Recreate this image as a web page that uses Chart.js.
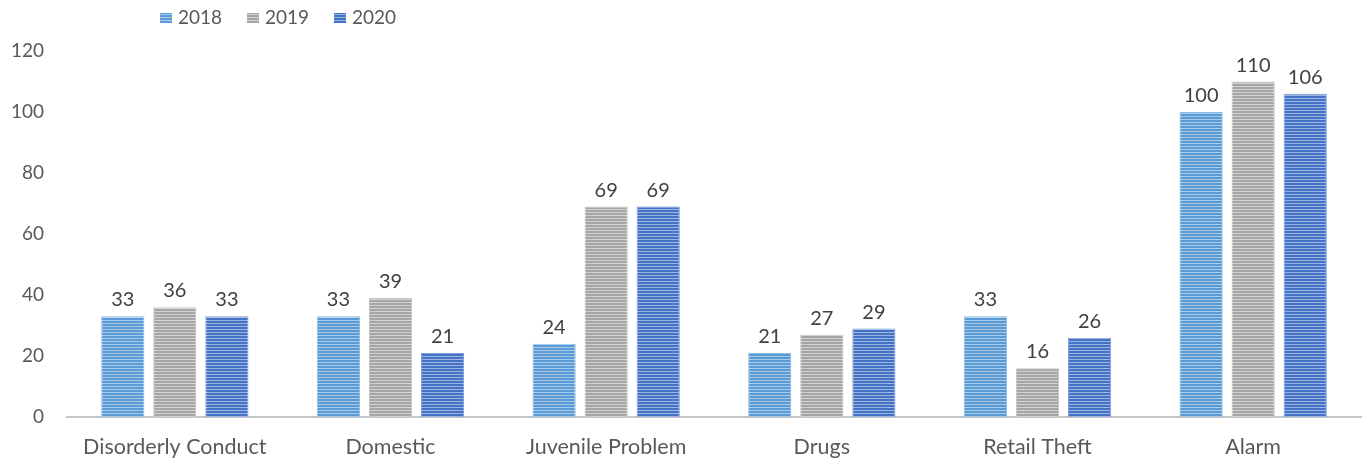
<!DOCTYPE html>
<html>
<head>
<meta charset="utf-8">
<script src="https://cdn.jsdelivr.net/npm/chart.js@4"></script>
<style>
  html, body { margin: 0; padding: 0; background: #fff; }
  #wrap { width: 1362px; height: 464px; }
</style>
</head>
<body>
<div id="wrap"><canvas id="grafico"></canvas></div>
<script>
const categorias = ['Disorderly Conduct', 'Domestic', 'Juvenile Problem', 'Drugs', 'Retail Theft', 'Alarm'];

const anos = ['2018', '2019', '2020'];

const dados2018 = [33, 33, 24, 21, 33, 100];
const dados2019 = [36, 39, 69, 27, 16, 110];
const dados2020 = [33, 21, 69, 29, 26, 106];

const marcasY = [0, 20, 40, 60, 80, 100, 120];

const fonte = 'Lato, "Noto Sans", sans-serif';
const corTexto = '#595959';

// listras horizontais finas, como o preenchimento das barras
function listras(base, claro) {
	const c = document.createElement('canvas');
	c.width = 4;
	c.height = 3;
	const g = c.getContext('2d');
	g.fillStyle = base;
	g.fillRect(0, 0, 4, 3);
	g.fillStyle = claro;
	g.fillRect(0, 2, 4, 1);
	return g.createPattern(c, 'repeat');
}

const cores = [
	{ base: '#5b9bd5', claro: '#a9cbea', borda: '#8fbbe3' },
	{ base: '#a5a5a5', claro: '#d2d2d2', borda: '#c4c4c4' },
	{ base: '#4472c4', claro: '#9db5e2', borda: '#7e9ad6' }
];

// valores escritos acima de cada barra
const rotulosValores = {
	id: 'rotulosValores',
	afterDatasetsDraw(chart) {
		const ctx = chart.ctx;
		ctx.save();
		ctx.font = '20px ' + fonte;
		ctx.fillStyle = '#404040';
		ctx.textAlign = 'center';
		ctx.textBaseline = 'alphabetic';
		chart.data.datasets.forEach((ds, i) => {
			chart.getDatasetMeta(i).data.forEach((bar, j) => {
				ctx.fillText(ds.data[j], bar.x, bar.y - 10);
			});
		});
		ctx.restore();
	}
};

// legenda desenhada à mão, no canto superior esquerdo
const legendaTopo = {
	id: 'legendaTopo',
	afterDraw(chart) {
		const ctx = chart.ctx;
		const posicoes = [160, 247, 334];
		ctx.save();
		ctx.font = '19px ' + fonte;
		ctx.textBaseline = 'middle';
		ctx.textAlign = 'left';
		chart.data.datasets.forEach((ds, i) => {
			const x = posicoes[i];
			ctx.fillStyle = ds.backgroundColor;
			ctx.fillRect(x, 13, 12, 10);
			ctx.fillStyle = corTexto;
			ctx.fillText(ds.label, x + 18, 18);
		});
		ctx.restore();
	}
};

let ctx = document.getElementById('grafico').getContext('2d');

const series = [dados2018, dados2019, dados2020];

let grafico = new Chart(ctx, {
	type: 'bar',
	data: {
		labels: categorias,
		datasets: anos.map((ano, i) => ({
			label: ano,
			data: series[i],
			backgroundColor: listras(cores[i].base, cores[i].claro),
			borderColor: cores[i].borda,
			borderWidth: 1,
			categoryPercentage: 0.724,
			barPercentage: 0.83
		}))
	},
	options: {
		responsive: true,
		maintainAspectRatio: false,
		animation: false,
		layout: { padding: { top: 51, right: 1, left: 0, bottom: 0 } },
		plugins: {
			legend: { display: false },
			tooltip: { enabled: false }
		},
		scales: {
			x: {
				grid: { display: false },
				border: { display: true, color: '#c6c6c6', width: 2 },
				ticks: { color: corTexto, font: { family: fonte, size: 21.5 }, padding: 9 },
				afterFit(scale) { scale.height = 47; }
			},
			y: {
				min: 0,
				max: 120,
				grid: { display: false, drawTicks: false },
				border: { display: false },
				afterBuildTicks(scale) { scale.ticks = marcasY.map(v => ({ value: v })); },
				ticks: { color: corTexto, font: { family: fonte, size: 19 }, padding: 23 },
				afterFit(scale) { scale.width = 67; }
			}
		}
	},
	plugins: [rotulosValores, legendaTopo]
});
</script>
</body>
</html>
